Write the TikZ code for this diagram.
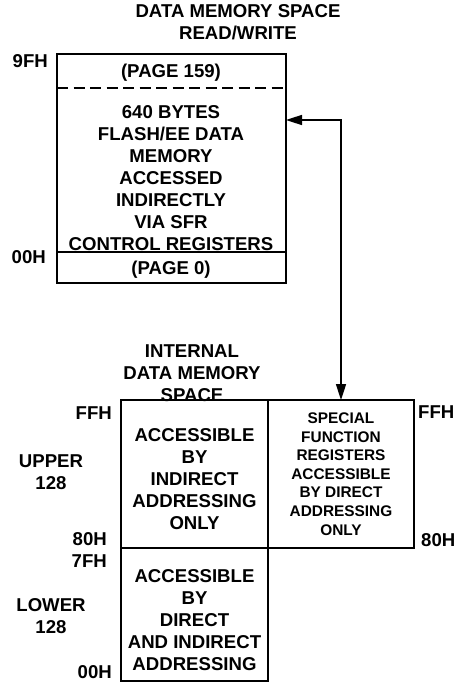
\documentclass[tikz,border=0pt]{standalone}
\usepackage{fontspec}
\setmainfont{Liberation Sans}
\usetikzlibrary{arrows.meta, positioning}
\newcommand{\memfont}{\fontsize{18.6}{22}\selectfont\bfseries}
\newcommand{\sfrfont}{\fontsize{15.4}{18.6}\selectfont\bfseries}

\begin{document}
\begin{tikzpicture}[x=1pt, y=-1pt,
  box/.style={draw, line width=1.6pt, inner sep=0pt, outer sep=0pt},
  lbl/.style={font=\memfont, inner sep=0pt, align=center}]
\useasboundingbox (0,0) rectangle (456,687);

% Flash/EE data memory
\node[lbl] (title) at (238,22) {DATA MEMORY SPACE\\READ/WRITE};
\node[box, minimum width=229pt, minimum height=229pt] (flash) at (171.5,168.5) {};
\draw[line width=1.4pt, dash pattern=on 11pt off 5.5pt] (flash.west |- 0,88) -- (flash.east |- 0,88);
\draw[line width=1.6pt] (flash.west |- 0,252) -- (flash.east |- 0,252);
\node[lbl] (p159) at (171,73) {(PAGE 159)};
\node[lbl] (fdesc) at (171,178) {640 BYTES\\FLASH/EE DATA\\MEMORY\\ACCESSED\\INDIRECTLY\\VIA SFR\\CONTROL REGISTERS};
\node[lbl] (p0) at (171,270) {(PAGE 0)};
\node[lbl, anchor=east] (a9fh) at (48,61) {9FH};
\node[lbl, anchor=east] (a00h) at (46,257) {00H};

% Internal data memory
\node[lbl] (ititle) at (192,373) {INTERNAL\\DATA MEMORY\\SPACE};
\node[box, minimum width=147pt, minimum height=148pt] (upper) at (194.5,474) {};
\node[box, minimum width=146pt, minimum height=148pt, right=0pt of upper] (sfr) {};
\node[box, minimum width=147pt, minimum height=133pt, below=0pt of upper] (lower) {};
\node[lbl] (uppertext) at ([yshift=-5pt]upper.center)
  {ACCESSIBLE\\BY\\INDIRECT\\ADDRESSING\\ONLY};
\node[lbl, font=\sfrfont] (sfrtext) at (sfr.center)
  {SPECIAL\\FUNCTION\\REGISTERS\\ACCESSIBLE\\BY DIRECT\\ADDRESSING\\ONLY};
\node[lbl] (lowertext) at ([yshift=-6pt]lower.center)
  {ACCESSIBLE\\BY\\DIRECT\\AND INDIRECT\\ADDRESSING};

\node[lbl, anchor=east] (uffh) at (112,413) {FFH};
\node[lbl, anchor=east] (u80h) at (107,539) {80H};
\node[lbl, anchor=east] (l7fh) at (107,561) {7FH};
\node[lbl, anchor=east] (l00h) at (112,672) {00H};
\node[lbl] (upper128) at (51,472) {UPPER\\128};
\node[lbl] (lower128) at (51,616) {LOWER\\128};
\node[lbl, anchor=west] (sffh) at (418,412) {FFH};
\node[lbl, anchor=west] (s80h) at (421,540) {80H};

% access path
\coordinate (bend) at (sfr.north |- 0,120);
\draw[{Triangle[length=16pt,width=10pt]}-{Triangle[length=16pt,width=10pt]}, line width=1.6pt]
  (flash.east |- bend) -- (bend) -- (sfr.north);
\end{tikzpicture}
\end{document}
